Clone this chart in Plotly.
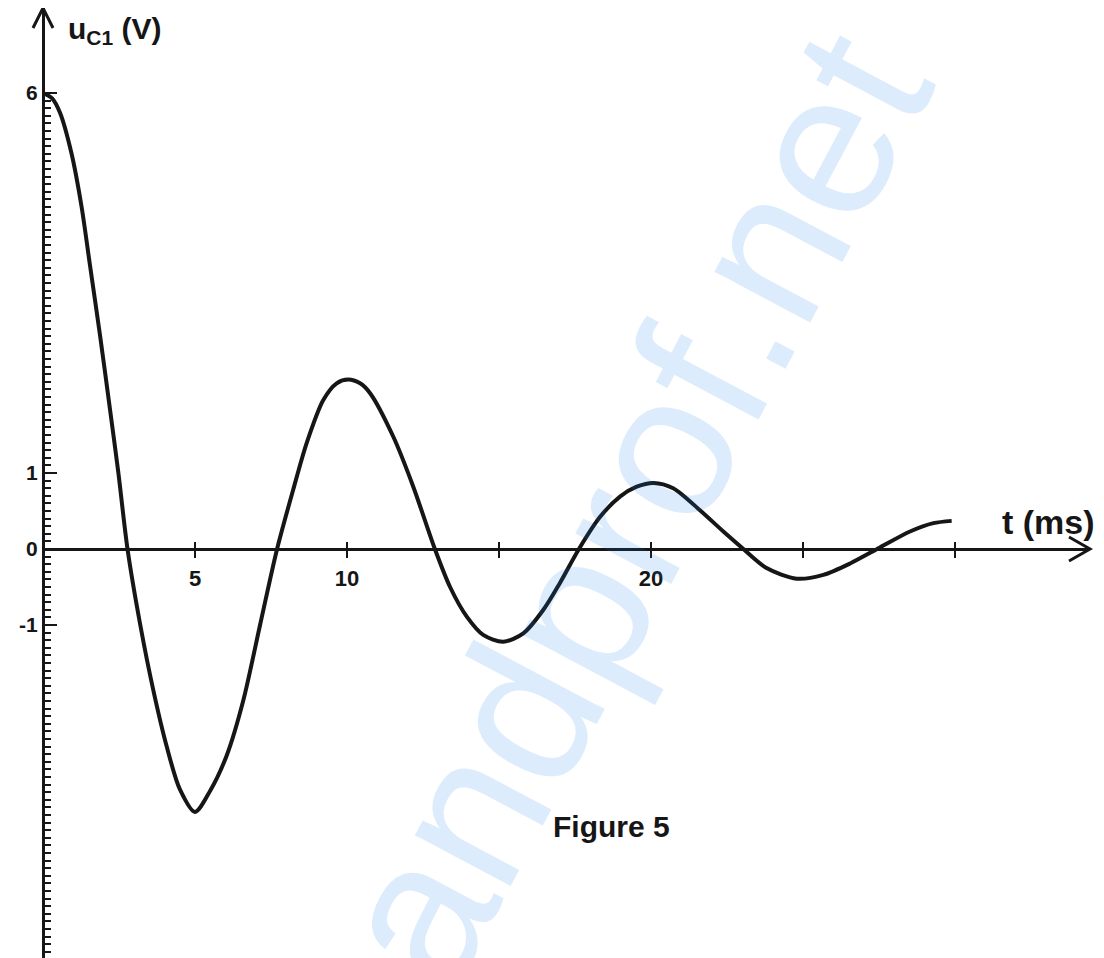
import plotly.graph_objects as go

# ---- data ----
t_ms = [0.0, 0.3, 0.56, 0.94, 1.27, 1.55, 1.88, 2.2, 2.48, 2.78, 3.2, 3.63, 4.07, 4.5,
        5.0, 5.5, 6.04, 6.59, 7.14, 7.70, 8.23, 8.67, 9.22, 9.66, 10.04, 10.43, 10.76,
        11.52, 12.18, 12.89, 13.39, 13.94, 14.48, 15.14, 15.8, 16.46, 17.0, 17.63, 18.32,
        18.98, 19.53, 20.08, 20.73, 21.61, 22.38, 23.04, 23.8, 24.79, 25.67, 26.55, 27.53,
        28.52, 29.29, 29.89]
u_c1 = [6.0, 5.93, 5.74, 5.2, 4.5, 3.72, 2.8, 1.85, 1.0, 0.0, -1.0, -1.86, -2.6, -3.16,
        -3.46, -3.18, -2.72, -1.99, -1.0, 0.0, 0.78, 1.39, 1.96, 2.18, 2.23, 2.18, 2.05,
        1.48, 0.82, 0.0, -0.5, -0.89, -1.13, -1.22, -1.11, -0.80, -0.45, 0.0, 0.42,
        0.69, 0.82, 0.87, 0.80, 0.51, 0.23, 0.0, -0.25, -0.39, -0.34, -0.19, 0.02,
        0.23, 0.34, 0.37]

x_label_vals = [5, 10, 20]
x_label_text = ["5", "10", "20"]
x_unlabeled_vals = [15, 25, 30]
x_all_ticks = [5, 10, 15, 20, 25, 30]
y_tick_vals = [-5, -4, -3, -2, -1, 0, 1, 2, 3, 4, 5, 6]
y_tick_text = ["", "", "", "", "-1", "0", "1", "", "", "", "", "6"]
y_minor_vals = [round(-5.4 + 0.1 * i, 1) for i in range(115)]

W, H = 1104, 958
OFF = 8                   # the page body adds an 8px margin; compensate
X0, Y0 = 43 - OFF, 549 - OFF
PX_MS, PX_V = 30.4, 76.0
X_END, Y_TOP = 1089 - OFF, 8 - OFF

INK = "#161616"
FONT = "Liberation Sans, Arial, sans-serif"

fig = go.Figure()
fig.add_trace(go.Scatter(x=t_ms, y=u_c1, mode="lines",
                         line=dict(color=INK, width=4, shape="spline", smoothing=0.8),
                         hoverinfo="skip", showlegend=False))
fig.add_trace(go.Scatter(x=[x_all_ticks[0]], y=[0], xaxis="x2", mode="markers",
                         marker=dict(opacity=0), hoverinfo="skip", showlegend=False))

xdom = [X0 / W, X_END / W]
xrange = [0, (X_END - X0) / PX_MS]
xpos = (H - Y0) / H
ydom = [0, (H - Y_TOP) / H]
yrange = [-(H - Y0) / PX_V, (Y0 - Y_TOP) / PX_V]
ypos = X0 / W

fig.update_layout(
    width=W, height=H,
    margin=dict(l=0, r=0, t=0, b=0, pad=0, autoexpand=False),
    paper_bgcolor="white", plot_bgcolor="white",
    showlegend=False,
    font=dict(family=FONT, color=INK),
    xaxis=dict(domain=xdom, range=xrange, anchor="free", position=xpos,
               showline=True, linecolor=INK, linewidth=3,
               showgrid=False, zeroline=False,
               tickmode="array", tickvals=x_label_vals, ticktext=x_label_text,
               ticks="outside", ticklen=7, tickwidth=2, tickcolor=INK,
               ticklabelstandoff=2,
               tickfont=dict(family=FONT, size=22, color=INK, weight="bold"),
               minor=dict(tickmode="array", tickvals=x_unlabeled_vals, ticks="outside",
                          ticklen=7, tickwidth=2, tickcolor=INK, showgrid=False)),
    xaxis2=dict(overlaying="x", matches="x", anchor="free", position=xpos, side="top",
                showline=False, showgrid=False, zeroline=False,
                tickmode="array", tickvals=x_all_ticks,
                showticklabels=False, ticks="outside", ticklen=7, tickwidth=2,
                tickcolor=INK),
    yaxis=dict(domain=ydom, range=yrange, anchor="free", position=ypos,
               showline=True, linecolor=INK, linewidth=3,
               showgrid=False, zeroline=False,
               tickmode="array", tickvals=y_tick_vals, ticktext=y_tick_text,
               ticks="inside", ticklen=12, tickwidth=2, tickcolor=INK,
               tickfont=dict(family=FONT, size=21, color=INK, weight="bold"),
               minor=dict(tickmode="array", tickvals=y_minor_vals, ticks="inside",
                          ticklen=6, tickwidth=1.5, tickcolor=INK, showgrid=False)),
)

def P(px, py):
    return f"{(px - OFF) / W:.5f},{1 - (py - OFF) / H:.5f}"

# arrow heads of the axes
fig.add_shape(type="path", xref="paper", yref="paper",
              path=f"M {P(33, 28)} L {P(43, 8)} L {P(53, 28)}",
              line=dict(color=INK, width=3))
fig.add_shape(type="path", xref="paper", yref="paper",
              path=f"M {P(1069, 537)} L {P(1090, 549)} L {P(1069, 561)}",
              line=dict(color=INK, width=3))

def PX(px):
    return (px - OFF) / W

def PY(py):
    return 1 - (py - OFF) / H

# watermark
fig.add_annotation(text="andprof.net", xref="paper", yref="paper",
                   x=PX(630), y=PY(508), xanchor="center", yanchor="middle",
                   showarrow=False, textangle=-62,
                   font=dict(family=FONT, size=205, color="rgba(22,128,235,0.15)"))

# axis titles and caption
fig.add_annotation(text="u<sub>C1</sub> (V)", xref="paper", yref="paper",
                   x=PX(66), y=PY(30), xanchor="left", yanchor="middle",
                   showarrow=False,
                   font=dict(family=FONT, size=30, color=INK, weight="bold"))
fig.add_annotation(text="t (ms)", xref="paper", yref="paper",
                   x=PX(1000), y=PY(522), xanchor="left", yanchor="middle",
                   showarrow=False,
                   font=dict(family=FONT, size=34, color=INK, weight="bold"))
fig.add_annotation(text="Figure 5", xref="paper", yref="paper",
                   x=PX(551), y=PY(826), xanchor="left", yanchor="middle",
                   showarrow=False,
                   font=dict(family=FONT, size=30, color=INK, weight="bold"))

fig.write_html("out.html", config={"displayModeBar": False})
